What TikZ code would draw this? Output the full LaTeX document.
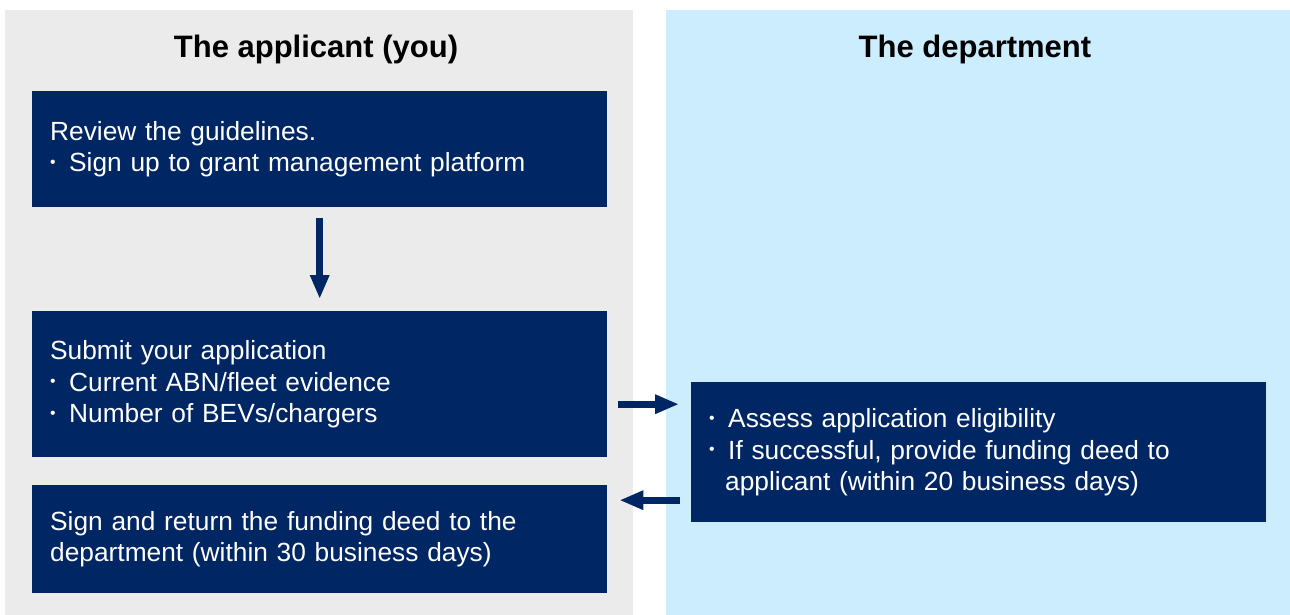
\documentclass[tikz,border=0pt]{standalone}
\usepackage{fontspec}
\setmainfont{Liberation Sans}
\usetikzlibrary{arrows.meta, positioning, calc}
\definecolor{navy}{HTML}{002664}
\definecolor{applgray}{HTML}{EBEBEB}
\definecolor{deptblue}{HTML}{CBEDFD}
\newcommand{\bul}{\makebox[19pt][l]{\raisebox{0.3ex}{\scalebox{0.6}{\textbullet}}}}
\tikzset{
  panel/.style = {rectangle, anchor=north west, inner sep=0pt, minimum width=628pt, minimum height=605pt},
  heading/.style = {font=\fontsize{31}{36}\selectfont\bfseries, text=black},
  stepbox/.style = {rectangle, fill=navy, text=white, anchor=north west, inner xsep=18pt, inner ysep=0pt,
    text width=539pt, minimum width=575pt, align=left, font=\fontsize{26.3}{31.5}\selectfont},
  flow/.style = {draw=navy, line width=7pt, -{Triangle[length=24pt, width=18pt]}}
}
\begin{document}
\begin{tikzpicture}[x=1pt, y=-1pt]
  \useasboundingbox (0,0) rectangle (1290,615);
  % Lanes
  \node[panel, fill=applgray] (applicant) at (5,10) {};
  \node[panel, fill=deptblue, minimum width=624pt] (department) at (666,10) {};
  \node[heading] (applhead) at (316,49) {The applicant (you)};
  \node[heading] (depthead) at (975,49) {The department};

  % Steps
  \node[stepbox, minimum height=116pt] (review) at (32,91) {Review the guidelines.\\
    \bul Sign up to grant management platform};
  \node[stepbox, minimum height=146pt] (submit) at (32,311) {Submit your application\\
    \bul Current ABN/fleet evidence\\
    \bul Number of BEVs/chargers};
  \node[stepbox, minimum height=108pt] (signdeed) at (32,485) {Sign and return the funding deed to the\\
    department (within 30 business days)};
  \node[stepbox, minimum height=140pt, inner xsep=17pt] (assess) at (691,382) {\bul Assess application eligibility\\
    \bul If successful, provide funding deed to\\
    \hspace*{16pt}applicant (within 20 business days)};

  % Arrows
  \draw[flow, shorten <=11pt, shorten >=12pt] (review) -- (submit);
  \draw[flow, shorten <=11pt, shorten >=12pt] ($(submit.east)+(0,20)$) -- ($(assess.west |- submit.east)+(0,20)$);
  \draw[flow, shorten <=11pt, shorten >=12pt] ($(assess.west)+(0,48)$) -- ($(signdeed.east |- assess.west)+(0,48)$);
\end{tikzpicture}
\end{document}
